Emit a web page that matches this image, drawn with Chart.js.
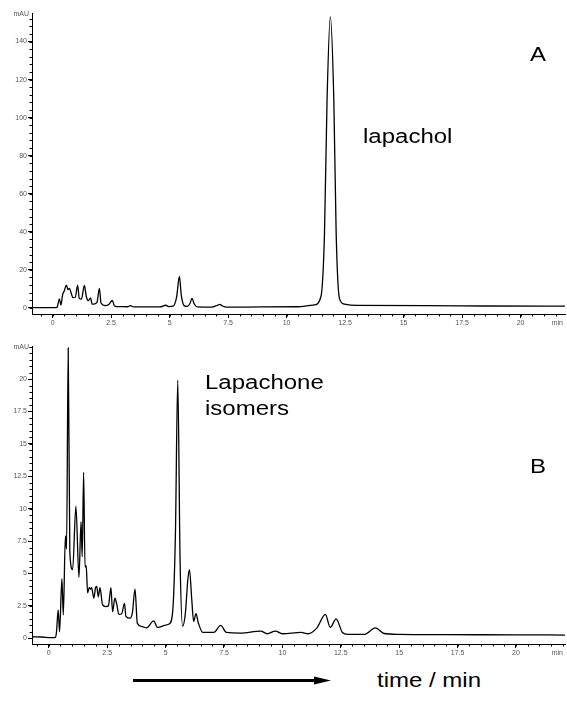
<!DOCTYPE html>
<html>
<head>
<meta charset="utf-8">
<script src="https://cdn.jsdelivr.net/npm/chart.js@4/dist/chart.umd.min.js"></script>
<style>
  body { margin: 0; background: #fff; }
  #wrap { position: relative; width: 567px; height: 701px; overflow: hidden; font-family: "Liberation Sans", Arial, sans-serif; }
  canvas { position: absolute; left: 0; }
  .lbl { position: absolute; color: #000; white-space: nowrap; line-height: 1; font-size: 20px; transform: scaleX(1.2); transform-origin: 0 0; }
</style>
</head>
<body>
<div id="wrap">
  <canvas id="chartA" width="567" height="335" style="top:0"></canvas>
  <canvas id="chartB" width="567" height="325" style="top:335px"></canvas>
  <div class="lbl" style="left:530px;top:44px">A</div>
  <div class="lbl" style="left:363px;top:126px">lapachol</div>
  <div class="lbl" style="left:205px;top:372px">Lapachone</div>
  <div class="lbl" style="left:205px;top:398px">isomers</div>
  <div class="lbl" style="left:530px;top:456px">B</div>
  <div class="lbl" style="left:377px;top:670px">time / min</div>
  <svg style="position:absolute;left:0;top:0" width="567" height="701">
    <line x1="133" y1="680.5" x2="316" y2="680.5" stroke="#000" stroke-width="3"/>
    <polygon points="314,676.5 331,680.5 314,684.5" fill="#000"/>
  </svg>
</div>
<script>
// tick values
const xTicks = [0, 2.5, 5, 7.5, 10, 12.5, 15, 17.5, 20];
const yTicksA = [0, 20, 40, 60, 80, 100, 120, 140];
const yTicksB = [0, 2.5, 5, 7.5, 10, 12.5, 15, 17.5, 20];

// trace A (lapachol standard)
const timeA = [-0.88, 0.0, 0.19, 0.29, 0.36, 0.42, 0.5, 0.59, 0.66, 0.72, 0.79, 0.87, 0.97, 1.07, 1.14, 1.23, 1.36, 1.44, 1.53, 1.62, 1.69, 1.83, 1.9, 2.0, 2.07, 2.26, 2.4, 2.55, 2.65, 2.9, 3.2, 3.33, 3.45, 4.6, 4.83, 4.97, 5.15, 5.3, 5.42, 5.5, 5.62, 5.76, 5.87, 5.96, 6.05, 6.19, 6.8, 7.05, 7.15, 7.26, 7.45, 9.0, 10.5, 11.19, 11.47, 11.62, 11.73, 11.87, 12.02, 12.12, 12.26, 12.47, 13.0, 16.0, 18.5, 21.9];
const mauA = [0.2, 0.2, 0.3, 4.7, 1.5, 6.5, 9, 12, 9.6, 10.3, 8, 5.4, 5.6, 12, 5, 4.6, 11.8, 6, 3.8, 5.3, 2, 2.3, 3, 10.2, 2.6, 1.2, 1.8, 3.9, 1, 0.7, 0.6, 1.2, 0.5, 0.5, 1.4, 0.7, 0.9, 5.7, 16.5, 6.7, 1.2, 0.8, 2.3, 5, 2.2, 0.5, 0.4, 1.4, 1.9, 1, 0.4, 0.5, 0.6, 1.6, 6, 39, 109, 153, 109, 39, 5, 2, 1.3, 1.2, 1.0, 0.9];

// trace B (lapachone isomers)
const timeB = [-0.72, -0.3, 0.1, 0.28, 0.33, 0.4, 0.46, 0.56, 0.62, 0.71, 0.76, 0.83, 0.9, 1.02, 1.16, 1.29, 1.38, 1.43, 1.49, 1.55, 1.6, 1.66, 1.73, 1.78, 1.83, 1.93, 2.0, 2.05, 2.12, 2.19, 2.3, 2.44, 2.55, 2.66, 2.73, 2.83, 2.9, 3.0, 3.12, 3.24, 3.3, 3.48, 3.58, 3.69, 3.79, 4.0, 4.18, 4.49, 4.65, 4.8, 4.96, 5.15, 5.3, 5.42, 5.52, 5.62, 5.73, 5.85, 5.95, 6.02, 6.12, 6.2, 6.3, 6.4, 6.59, 7.06, 7.36, 7.6, 8.2, 9.07, 9.35, 9.7, 10.0, 10.8, 11.1, 11.48, 11.84, 12.05, 12.3, 12.57, 12.8, 13.5, 13.99, 14.35, 15.0, 17.0, 20.0, 22.1];
const mauB = [0.12, 0.1, 0.05, 0.08, 0.5, 2.2, 0.5, 4.6, 1.8, 7.9, 6.9, 22.4, 6.6, 5.3, 10.2, 4.7, 9.0, 6.3, 12.8, 5.5, 5.6, 3.5, 3.9, 3.8, 3.9, 3.1, 3.9, 4.0, 3.2, 3.9, 2.6, 2.45, 2.5, 3.9, 2.05, 3.1, 2.7, 1.85, 1.9, 2.7, 1.7, 1.55, 2.0, 3.8, 1.15, 0.9, 0.8, 1.35, 0.84, 0.9, 1.0, 1.1, 2.0, 8, 19.9, 6, 0.93, 2.0, 4.5, 5.3, 3.0, 1.3, 1.9, 1.2, 0.45, 0.45, 1.0, 0.45, 0.4, 0.56, 0.35, 0.56, 0.35, 0.45, 0.35, 0.8, 1.85, 0.84, 1.5, 0.45, 0.3, 0.3, 0.8, 0.37, 0.3, 0.28, 0.27, 0.25];

const tickFont = { family: 'Liberation Sans', size: 7 };
const tickColor = '#555';

// minor ticks + unit labels
const minorTicks = {
  id: 'minorTicks',
  afterDraw(chart, args, opts) {
    const ctx = chart.ctx;
    const xs = chart.scales.x, ys = chart.scales.y;
    const area = chart.chartArea;
    ctx.save();
    ctx.strokeStyle = '#000';
    ctx.lineWidth = 1;
    ctx.beginPath();
    for (let v = Math.ceil(xs.min / opts.xStep) * opts.xStep; v <= xs.max; v += opts.xStep) {
      const px = Math.round(xs.getPixelForValue(v)) + 0.5;
      ctx.moveTo(px, area.bottom);
      ctx.lineTo(px, area.bottom + 2.5);
    }
    for (let v = Math.ceil(ys.min / opts.yStep) * opts.yStep; v <= ys.max; v += opts.yStep) {
      const py = Math.round(ys.getPixelForValue(v)) + 0.5;
      ctx.moveTo(area.left, py);
      ctx.lineTo(area.left - 2.5, py);
    }
    ctx.stroke();
    ctx.fillStyle = tickColor;
    ctx.font = '7px "Liberation Sans"';
    ctx.textAlign = 'right';
    ctx.textBaseline = 'middle';
    ctx.fillText('mAU', area.left - 3, area.top + 1);
    ctx.fillText('min', area.right - 2, area.bottom + 9);
    ctx.restore();
  }
};

function makeChart(id, times, values, yTicks, cfg) {
  const points = times.map((t, i) => ({ x: t, y: values[i] }));
  return new Chart(document.getElementById(id), {
    type: 'line',
    data: {
      datasets: [{
        data: points,
        borderColor: '#000',
        borderWidth: 1.3,
        pointRadius: 0,
        cubicInterpolationMode: 'monotone',
        fill: false
      }]
    },
    options: {
      responsive: false,
      animation: false,
      devicePixelRatio: 1,
      layout: { padding: { left: 0, right: 2, top: cfg.top, bottom: 0 } },
      plugins: {
        legend: { display: false },
        tooltip: { enabled: false },
        minorTicks: { xStep: 0.5, yStep: cfg.yStep }
      },
      scales: {
        x: {
          type: 'linear',
          min: cfg.xMin,
          max: cfg.xMax,
          afterBuildTicks: s => { s.ticks = xTicks.map(v => ({ value: v })); },
          afterFit: s => { s.height = cfg.xHeight; },
          border: { display: true, color: '#000', width: 1 },
          grid: { drawOnChartArea: false, drawTicks: true, tickLength: 4, tickColor: '#000' },
          ticks: { font: tickFont, color: tickColor, padding: 1, maxRotation: 0, callback: v => String(v) }
        },
        y: {
          min: cfg.yMin,
          max: cfg.yMax,
          afterBuildTicks: s => { s.ticks = yTicks.map(v => ({ value: v })); },
          afterFit: s => { s.width = 32; },
          border: { display: true, color: '#000', width: 1 },
          grid: { drawOnChartArea: false, drawTicks: true, tickLength: 4, tickColor: '#000' },
          ticks: { font: tickFont, color: tickColor, padding: 1, callback: v => String(v) }
        }
      }
    },
    plugins: [minorTicks]
  });
}

makeChart('chartA', timeA, mauA, yTicksA, { top: 13, xMin: -0.88, xMax: 21.9, yMin: -3.2, yMax: 155, yStep: 4, xHeight: 21 });
makeChart('chartB', timeB, mauB, yTicksB, { top: 11, xMin: -0.72, xMax: 22.1, yMin: -0.44, yMax: 22.55, yStep: 0.5, xHeight: 16 });
</script>
</body>
</html>
